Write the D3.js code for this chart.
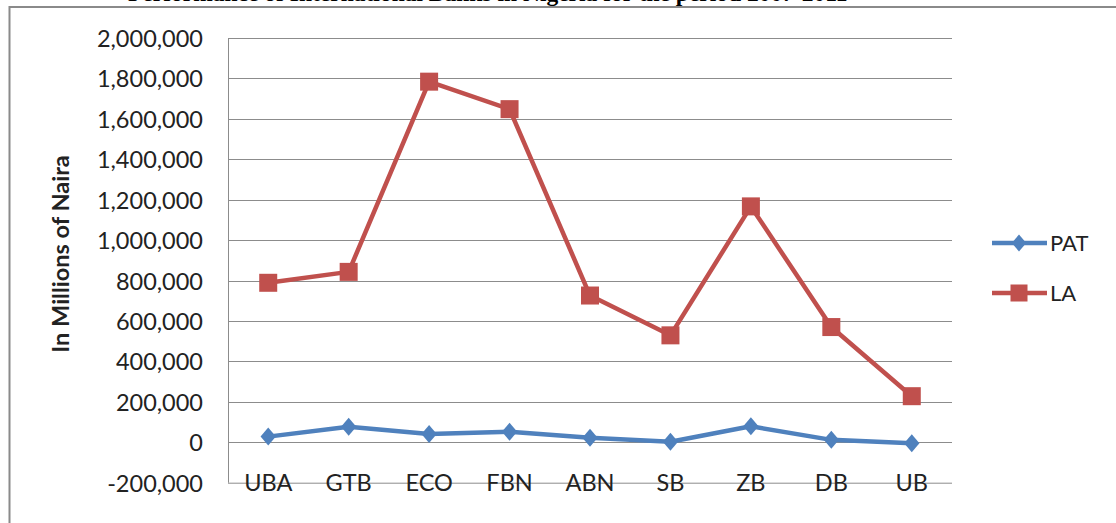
<!DOCTYPE html>
<html>
<head>
<meta charset="utf-8">
<script src="https://cdn.jsdelivr.net/npm/d3@7"></script>
<style>
  html, body { margin: 0; padding: 0; background: #fff; overflow: hidden; }
  svg { display: block; }
</style>
</head>
<body>
<svg id="chart" width="1116" height="523"></svg>
<script>
// ---- data ----
const categories = ["UBA", "GTB", "ECO", "FBN", "ABN", "SB", "ZB", "DB", "UB"];
const patValues = [28000, 77000, 41000, 52000, 22000, 3000, 79000, 12000, -5000];
const laValues = [789000, 843000, 1784000, 1648000, 726000, 529000, 1167000, 570000, 228000];
const yTicks = [-200000, 0, 200000, 400000, 600000, 800000, 1000000, 1200000, 1400000, 1600000, 1800000, 2000000];
const seriesNames = ["PAT", "LA"];
const titleText = "Performance of International Banks in Nigeria for the period 2007-2011";
const yAxisTitle = "In Millions of Naira";

const svg = d3.select("#chart");
const W = 1116, H = 523;
const plot = { left: 228, right: 952, top: 38, bottom: 482.7 };
const colors = { PAT: "#4F81BD", LA: "#C0504D" };
const labelFont = "Lato, 'Open Sans', sans-serif";

const x = d3.scaleBand().domain(categories).range([plot.left, plot.right]).padding(0);
const y = d3.scaleLinear().domain([-200000, 2000000]).range([plot.bottom, plot.top]);
const cx = d => x(d) + x.bandwidth() / 2;

// clipped title (only the bottom of the line shows at the top edge, as in the reference)
svg.append("text")
  .attr("x", 128).attr("y", 1)
  .attr("font-family", "'Liberation Serif', 'Times New Roman', serif")
  .attr("font-weight", "bold")
  .attr("font-size", 23.5)
  .attr("fill", "#000")
  .text(titleText);

// outer frame (left and top edges visible)
svg.append("path")
  .attr("d", `M9.5,${H + 5} L9.5,7 L${W + 5},7`)
  .attr("fill", "none").attr("stroke", "#8a8a8a").attr("stroke-width", 2);

// gridlines via axis
const yGrid = d3.axisLeft(y).tickValues(yTicks.filter(t => t > -200000)).tickSize(-(plot.right - plot.left)).tickFormat("");
svg.append("g")
  .attr("transform", `translate(${plot.left},0)`)
  .call(yGrid)
  .call(g => g.select(".domain").remove())
  .call(g => g.selectAll("line").attr("stroke", "#8c8c8c").attr("stroke-width", 1)
    .attr("shape-rendering", "crispEdges"));

// y axis line
svg.append("line")
  .attr("x1", plot.left + 0.5).attr("x2", plot.left + 0.5)
  .attr("y1", plot.top).attr("y2", plot.bottom)
  .attr("stroke", "#8c8c8c").attr("stroke-width", 1);

// y tick labels
const fmt = d3.format(",");
const yAxis = d3.axisLeft(y).tickValues(yTicks).tickSize(0).tickPadding(25)
  .tickFormat(d => fmt(d).replace("\u2212", "-"));
svg.append("g")
  .attr("transform", `translate(${plot.left},0)`)
  .call(yAxis)
  .call(g => g.select(".domain").remove())
  .call(g => g.selectAll("text")
    .attr("font-family", labelFont)
    .attr("font-size", 23.5)
    .attr("fill", "#222")
    .attr("dy", "0.36em"));

// x axis line at bottom (-200,000 level)
svg.append("line")
  .attr("x1", plot.left).attr("x2", plot.right)
  .attr("y1", plot.bottom + 0.5).attr("y2", plot.bottom + 0.5)
  .attr("stroke", "#8c8c8c").attr("stroke-width", 1);

// x labels (sit on the axis line)
const xAxis = d3.axisBottom(x).tickSize(0).tickPadding(0);
svg.append("g")
  .attr("transform", `translate(0,${plot.bottom})`)
  .call(xAxis)
  .call(g => g.select(".domain").remove())
  .call(g => g.selectAll("text")
    .attr("font-family", labelFont)
    .attr("font-size", 23.5)
    .attr("fill", "#222")
    .attr("y", 0)
    .attr("dy", "0.36em"));

// y axis title
svg.append("text")
  .attr("transform", `translate(69,254) rotate(-90)`)
  .attr("text-anchor", "middle")
  .attr("font-family", labelFont)
  .attr("font-weight", "bold")
  .attr("font-size", 23.5)
  .attr("fill", "#222")
  .text(yAxisTitle);

// series
const seriesData = [
  { name: "PAT", values: patValues },
  { name: "LA", values: laValues }
];
const line = d3.line().x((d, i) => cx(categories[i])).y(d => y(d));

const diamond = (s) => `M0,${-s} L${s * 0.85},0 L0,${s} L${-s * 0.85},0 Z`;

seriesData.forEach(s => {
  const g = svg.append("g");
  g.append("path")
    .datum(s.values)
    .attr("d", line)
    .attr("fill", "none")
    .attr("stroke", colors[s.name])
    .attr("stroke-width", 4.5)
    .attr("stroke-linejoin", "round");
  if (s.name === "LA") {
    g.selectAll("rect").data(s.values).join("rect")
      .attr("x", (d, i) => cx(categories[i]) - 9)
      .attr("y", d => y(d) - 9)
      .attr("width", 18).attr("height", 18)
      .attr("fill", colors.LA);
  } else {
    g.selectAll("path.m").data(s.values).join("path")
      .attr("class", "m")
      .attr("transform", (d, i) => `translate(${cx(categories[i])},${y(d)})`)
      .attr("d", diamond(9))
      .attr("fill", colors.PAT);
  }
});

// legend
const legend = svg.append("g");
seriesNames.forEach((n, i) => {
  const ly = 243 + i * 50;
  legend.append("line")
    .attr("x1", 992).attr("x2", 1047).attr("y1", ly).attr("y2", ly)
    .attr("stroke", colors[n]).attr("stroke-width", 4.5);
  if (n === "LA") {
    legend.append("rect").attr("x", 1019 - 8.5).attr("y", ly - 8.5)
      .attr("width", 17).attr("height", 17).attr("fill", colors.LA);
  } else {
    legend.append("path").attr("transform", `translate(1019,${ly})`)
      .attr("d", diamond(8.5)).attr("fill", colors.PAT);
  }
  legend.append("text")
    .attr("x", 1050).attr("y", ly).attr("dy", "0.36em")
    .attr("font-family", labelFont)
    .attr("font-size", 22)
    .attr("fill", "#222")
    .text(n);
});
</script>
</body>
</html>
